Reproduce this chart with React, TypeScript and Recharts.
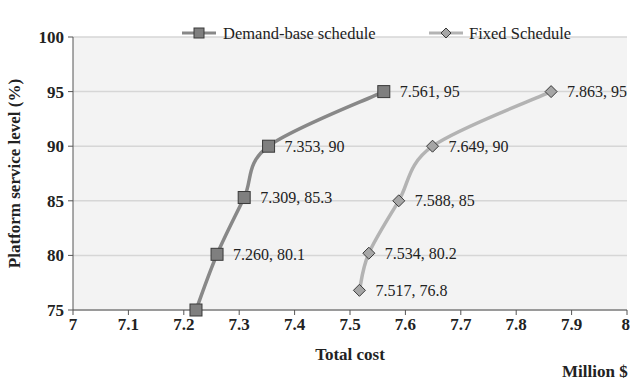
import { LineChart, Line, XAxis, YAxis, CartesianGrid, Legend, LabelList } from "recharts";

const demandCost = [7.222, 7.26, 7.309, 7.353, 7.561];
const demandLevel = [75, 80.1, 85.3, 90, 95];
const demandLabels = ["", "7.260, 80.1", "7.309, 85.3", "7.353, 90", "7.561, 95"];

const fixedCost = [7.517, 7.534, 7.588, 7.649, 7.863];
const fixedLevel = [76.8, 80.2, 85, 90, 95];
const fixedLabels = ["7.517, 76.8", "7.534, 80.2", "7.588, 85", "7.649, 90", "7.863, 95"];

const xTicks = [7, 7.1, 7.2, 7.3, 7.4, 7.5, 7.6, 7.7, 7.8, 7.9, 8];
const yTicks = [75, 80, 85, 90, 95, 100];

const demandData = demandCost.map((c, i) => ({ x: c, y: demandLevel[i], label: demandLabels[i] }));
const fixedData = fixedCost.map((c, i) => ({ x: c, y: fixedLevel[i], label: fixedLabels[i] }));

const FONT = "'Liberation Serif', 'Times New Roman', serif";

// excel-ish smoothing (catmull-rom as cubic bezier)
const smoothCurve: any = (ctx: any) => {
    let pts: number[][] = [];
    return {
        areaStart() {},
        areaEnd() {},
        lineStart() {
            pts = [];
        },
        point(x: number, y: number) {
            pts.push([+x, +y]);
        },
        lineEnd() {
            if (!pts.length) return;
            ctx.moveTo(pts[0][0], pts[0][1]);
            for (let i = 0; i < pts.length - 1; i++) {
                const p0 = pts[i - 1] || pts[i];
                const p1 = pts[i];
                const p2 = pts[i + 1];
                const p3 = pts[i + 2] || p2;
                ctx.bezierCurveTo(
                    p1[0] + (p2[0] - p0[0]) / 6,
                    p1[1] + (p2[1] - p0[1]) / 6,
                    p2[0] - (p3[0] - p1[0]) / 6,
                    p2[1] - (p3[1] - p1[1]) / 6,
                    p2[0],
                    p2[1]
                );
            }
        },
    };
};

const SquareDot = (props: any) => {
    const { cx, cy } = props;
    if (cx == null || cy == null) return null;
    return <rect x={cx - 6} y={cy - 6} width={12} height={12} fill="#7f7f7f" stroke="#3a3a3a" strokeWidth={1} />;
};

const DiamondDot = (props: any) => {
    const { cx, cy } = props;
    if (cx == null || cy == null) return null;
    return (
        <path
            d={`M${cx},${cy - 6} L${cx + 6},${cy} L${cx},${cy + 6} L${cx - 6},${cy} Z`}
            fill="#a6a6a6"
            stroke="#3a3a3a"
            strokeWidth={1}
        />
    );
};

const PointLabel = (props: any) => {
    const { x, y, value } = props;
    if (!value) return null;
    return (
        <text x={x + 16} y={y} dy={5.5} fontSize={16} fontFamily={FONT} fill="#222">
            {value}
        </text>
    );
};

const LegendContent = () => (
    <svg width={630} height={24} style={{ display: "block" }}>
        <line x1={182} y1={12} x2={216} y2={12} stroke="#888" strokeWidth={3} />
        <rect x={194} y={7} width={10} height={10} fill="#7f7f7f" stroke="#3a3a3a" />
        <text x={223} y={17.5} fontSize={16.5} fontFamily={FONT} fill="#222">Demand-base schedule</text>
        <line x1={429} y1={12} x2={463} y2={12} stroke="#b3b3b3" strokeWidth={3} />
        <path d="M446,7 L451,12 L446,17 L441,12 Z" fill="#a6a6a6" stroke="#3a3a3a" />
        <text x={469} y={17.5} fontSize={16.5} fontFamily={FONT} fill="#222">Fixed Schedule</text>
    </svg>
);

export default function App() {
    const tickStyle = { fontSize: 17, fontWeight: 700, fill: "#222", fontFamily: FONT };
    const boldText = { fontSize: 17, fontWeight: 700, fill: "#222", fontFamily: FONT };
    return (
        <div style={{ position: "absolute", left: 0, top: 0, width: 630, height: 383, background: "#fff" }}>
            <LineChart width={630} height={383} margin={{ top: 13, right: 3, left: 0, bottom: 0 }}>
                <CartesianGrid vertical={false} fill="#f3f3f3" stroke="#d6d6d6" strokeWidth={1.5} />
                <XAxis
                    type="number"
                    dataKey="x"
                    domain={[7, 8]}
                    ticks={xTicks}
                    tickFormatter={(v: number) => String(Math.round(v * 10) / 10)}
                    height={73}
                    stroke="#555"
                    tickSize={5}
                    tick={tickStyle}
                    tickMargin={3}
                    allowDataOverflow
                    label={{ value: "Total cost", position: "insideTop", offset: 38, style: boldText }}
                />
                <YAxis
                    type="number"
                    dataKey="y"
                    domain={[75, 100]}
                    ticks={yTicks}
                    width={73}
                    stroke="#555"
                    tickSize={5}
                    tick={tickStyle}
                    tickMargin={4}
                    label={{ value: "Platform  service level (%)", angle: -90, position: "insideLeft", offset: 14, style: { ...boldText, textAnchor: "middle", whiteSpace: "pre" } }}
                />
                <Legend verticalAlign="top" content={<LegendContent />} wrapperStyle={{ top: 21, left: 0, width: 630 }} />
                <Line
                    data={demandData}
                    dataKey="y"
                    type={smoothCurve}
                    stroke="#888"
                    strokeWidth={3.5}
                    dot={<SquareDot />}
                    activeDot={false}
                    isAnimationActive={false}
                >
                    <LabelList dataKey="label" content={<PointLabel />} />
                </Line>
                <Line
                    data={fixedData}
                    dataKey="y"
                    type={smoothCurve}
                    stroke="#b3b3b3"
                    strokeWidth={3.5}
                    dot={<DiamondDot />}
                    activeDot={false}
                    isAnimationActive={false}
                >
                    <LabelList dataKey="label" content={<PointLabel />} />
                </Line>
            </LineChart>
            <div style={{ position: "absolute", left: 562, top: 362, fontFamily: FONT, fontWeight: 700, fontSize: 17, color: "#222" }}>
                Million $
            </div>
        </div>
    );
}
